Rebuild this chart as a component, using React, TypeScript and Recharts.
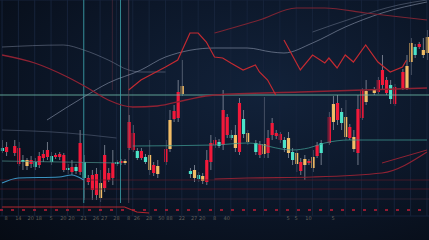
import { ComposedChart, Bar, Line, XAxis, YAxis, CartesianGrid, ReferenceLine } from 'recharts'

// time slots 0..104, prices in chart units
const slots = Array.from({ length: 105 }, (_, i) => i)

const candleSlots = [
  0, 1, 3, 4, 5, 6, 7, 8, 9, 10, 11, 12, 13, 14, 15, 16, 17, 18, 19, 20,
  21, 22, 23, 24, 25, 26, 27, 28, 29, 30, 31, 32, 33, 34, 35, 36, 37, 38, 40, 41,
  42, 43, 44, 46, 47, 48, 49, 50, 51, 52, 53, 54, 55, 56, 57, 58, 59, 60, 62, 63,
  64, 65, 66, 67, 68, 69, 70, 71, 72, 73, 74, 75, 76, 77, 78, 80, 81, 82, 83, 84,
  85, 86, 87, 88, 89, 91, 92, 93, 94, 95, 96, 98, 99, 100, 101, 102, 103, 104,
]
const opens = [
  89, 93, 94, 92, 78, 74, 80, 73, 84, 86, 90, 78, 85, 86, 85, 70, 73, 69, 97, 62,
  62, 65, 66, 42, 85, 67, 77, 76, 79, 77, 118, 107, 82, 89, 78, 70, 75, 66, 91, 91,
  129, 148, 146, 66, 62, 61, 59, 80, 97, 100, 94, 130, 123, 102, 92, 137, 106, 98, 88, 96,
  86, 102, 117, 107, 106, 92, 87, 80, 76, 78, 75, 79, 72, 95, 87, 123, 118, 137, 117, 103,
  113, 91, 131, 150, 138, 147, 160, 170, 160, 141, 153, 168, 152, 178, 185, 196, 185, 187,
]
const closes = [
  92, 88, 87, 76, 80, 80, 76, 78, 75, 82, 83, 84, 83, 83, 70, 72, 68, 73, 68, 78,
  58, 50, 45, 57, 52, 60, 62, 78, 77, 79, 92, 90, 89, 82, 83, 85, 67, 74, 78, 120,
  121, 122, 154, 69, 70, 65, 64, 58, 78, 95, 98, 95, 105, 105, 105, 88, 121, 107, 97, 85,
  96, 87, 105, 104, 100, 100, 102, 88, 87, 69, 81, 77, 83, 84, 97, 97, 136, 120, 128, 123,
  102, 103, 87, 122, 149, 151, 148, 155, 147, 155, 136, 152, 174, 197, 193, 193, 190, 203,
]
const highs = [
  100, 98, 100, 98, 85, 82, 84, 82, 88, 90, 98, 88, 87, 88, 87, 76, 80, 76, 110, 85,
  65, 70, 72, 70, 95, 72, 90, 80, 81, 81, 125, 115, 92, 92, 86, 100, 78, 80, 100, 130,
  135, 160, 180, 72, 75, 68, 67, 90, 105, 103, 101, 150, 126, 110, 115, 142, 130, 110, 100, 99,
  143, 110, 122, 110, 108, 103, 108, 92, 90, 82, 85, 81, 90, 98, 100, 128, 144, 145, 132, 140,
  116, 110, 145, 152, 160, 153, 163, 185, 163, 160, 156, 171, 185, 202, 196, 198, 202, 210,
]
const lows = [
  87, 84, 84, 74, 70, 70, 72, 70, 72, 78, 80, 75, 81, 80, 68, 66, 65, 66, 65, 40,
  55, 40, 40, 38, 48, 58, 55, 74, 75, 75, 90, 88, 80, 80, 76, 65, 64, 62, 75, 88,
  118, 118, 144, 62, 58, 58, 56, 55, 70, 92, 92, 90, 102, 100, 88, 85, 102, 95, 85, 82,
  82, 82, 100, 101, 97, 88, 82, 75, 68, 65, 60, 75, 68, 82, 75, 95, 110, 115, 110, 100,
  100, 88, 75, 120, 135, 145, 146, 150, 145, 136, 134, 150, 150, 165, 182, 191, 182, 180,
]
// r = falling (red), t = rising (teal), y = rising (amber)
const kinds = [
  't', 'r', 'r', 'r', 't', 'y', 'r', 't', 'r', 'r', 'r', 't', 'r', 'r', 'r', 't', 'r', 't', 'r', 't',
  'r', 'r', 'r', 'y', 'r', 'r', 'r', 't', 'r', 'y', 'r', 'r', 't', 'r', 't', 'y', 'r', 'y', 'r', 'y',
  'r', 'r', 'y', 't', 'y', 't', 'y', 'r', 'r', 'r', 't', 'r', 'r', 't', 'y', 'r', 't', 'y', 't', 'r',
  'y', 'r', 'r', 'r', 'r', 't', 'y', 't', 'y', 'r', 'y', 'r', 'y', 'r', 't', 'r', 'y', 'r', 't', 'y',
  'r', 'y', 'r', 'r', 'y', 'y', 'r', 'r', 'r', 't', 'r', 'r', 'y', 'y', 't', 'r', 'y', 'y',
]

// indicator lines as [slot, value]
const redWave = [[31, 150], [34, 160], [40, 173], [43, 180], [46, 207], [48, 207], [50, 198], [52, 183], [54, 182], [56, 177], [59, 170], [62, 175], [63, 168], [65, 160], [67, 145]]
const redWave2 = [[69, 200], [73, 170], [76, 185], [79, 177], [80, 182], [82, 172], [84, 185], [86, 178], [89, 195], [92, 178], [95, 168], [98, 173], [99, 180]]
const darkRed = [[0, 185], [8, 177], [16, 163], [21, 152], [26, 140], [32, 133], [38, 134], [45, 140], [52, 145], [73, 148], [104, 152]]
const greyRise = [[11, 120], [20, 143], [26, 157], [34, 170], [40, 183], [52, 192], [60, 192], [66, 188], [69, 187], [76, 197], [84, 213], [93, 227], [104, 238]]
const greyUpper = [[0, 193], [15, 195], [20, 190], [26, 180], [31, 170], [34, 168], [40, 168]]
const greyTop = [[76, 208], [86, 222], [97, 235], [104, 240]]
const topRed = [[52, 207], [63, 220], [72, 232], [79, 232], [89, 227], [104, 220]]
const blueCurve = [[0, 57], [4, 62], [14, 63], [17, 65], [20, 60]]
const tealLow = [[0, 79], [29, 77]]
const tealMid = [[32, 94], [52, 95], [60, 97], [71, 90], [75, 92], [79, 97], [85, 100], [104, 100]]
const greyLeft = [[0, 110], [16, 107], [28, 102]]
const redBase = [[0, 33], [30, 33], [33, 28], [36, 27]]
const redLow = [[52, 61], [60, 62], [76, 63], [93, 67], [104, 88]]
const redLow2 = [[93, 77], [104, 90]]

const labelSlots = [1, 4, 7, 9, 12, 15, 17, 20, 23, 25, 28, 31, 33, 36, 39, 41, 44, 47, 49, 52, 55, 70, 72, 75, 81]
const labels = ['8', '14', '20', '18', '5', '20', '20', '21', '26', '27', '28', '8', '26', '28', '50', '88', '22', '27', '20', '8', '40', '5', '5', '10', '5']

const gridSlots = [0, 4, 8, 12, 16, 20, 24, 28, 32, 36, 40, 44, 48, 52, 56, 60, 64, 68, 72, 76, 80, 84, 88, 92, 96, 100, 104]
const yTicks = [24, 36, 48, 60, 72, 84, 96, 108, 120, 132, 144, 156, 168, 180, 192, 204, 216, 228, 240]

const lineSeries: Record<string, number[][]> = {
  redWave, redWave2, darkRed, greyRise, greyUpper, greyTop, topRed,
  blueCurve, tealLow, tealMid, greyLeft, redBase, redLow, redLow2,
}

const data = slots.map((t) => {
  const row: any = { t }
  const k = candleSlots.indexOf(t)
  if (k >= 0) {
    row.range = [lows[k], highs[k]]
    row.open = opens[k]
    row.close = closes[k]
    row.high = highs[k]
    row.low = lows[k]
    row.kind = kinds[k]
  }
  Object.entries(lineSeries).forEach(([name, pts]) => {
    const p = pts.find((q) => q[0] === t)
    if (p) row[name] = p[1]
  })
  return row
})

const candleColors: Record<string, string> = { r: '#f2193a', t: '#4be3c9', y: '#f3bd66' }

const Candle = (props: any) => {
  const { x, y, width, height, payload } = props
  if (!payload || payload.high == null) return null
  const top = Math.min(y, y + height)
  const h = Math.abs(height)
  const k = h / (payload.high - payload.low)
  const cx = x + width / 2
  const bTop = top + (payload.high - Math.max(payload.open, payload.close)) * k
  const bBot = top + (payload.high - Math.min(payload.open, payload.close)) * k
  return (
    <g>
      <line x1={cx} x2={cx} y1={top} y2={top + h} stroke="#a4abb8" strokeOpacity={0.65} strokeWidth={1} />
      <rect x={cx - 1.6} y={bTop} width={3.2} height={Math.max(1.5, bBot - bTop)} fill={candleColors[payload.kind]} />
    </g>
  )
}

const LabelTick = (props: any) => {
  const { x, y, payload } = props
  const i = labelSlots.indexOf(payload.value)
  return (
    <text x={x} y={y + 4} fill="#b9ab92" fillOpacity={0.5} fontSize={5} textAnchor="middle" fontFamily="DejaVu Sans">
      {labels[i]}
    </text>
  )
}

const lineProps = { dot: false, activeDot: false, connectNulls: true, isAnimationActive: false } as const

export default function App() {
  return (
    <div
      style={{
        width: 429,
        height: 240,
        background: 'radial-gradient(ellipse at 62% 38%, #12223a 0%, #0c1729 50%, #060b14 100%)',
      }}
    >
      <style>{'body{margin:0;background:#060b14}'}</style>
      <ComposedChart width={429} height={240} data={data} margin={{ top: 0, right: 0, bottom: 0, left: 0 }} barSize={3}>
        <CartesianGrid vertical={false} stroke="#16233a" strokeWidth={1} />
        <XAxis
          dataKey="t"
          ticks={labelSlots}
          interval={0}
          height={24}
          axisLine={false}
          tickLine={false}
          tickSize={0}
          tickMargin={0}
          tick={<LabelTick />}
        />
        <YAxis width={0} type="number" domain={[24, 240]} ticks={yTicks} tick={false} axisLine={false} tickLine={false} />

        {gridSlots.map((s) => (
          <ReferenceLine key={'g' + s} x={s} stroke="#16233a" strokeWidth={1} />
        ))}
        <ReferenceLine y={60} stroke="#5b1a2a" strokeOpacity={0.7} />
        <ReferenceLine y={51} stroke="#5b1a2a" strokeOpacity={0.7} />
        <ReferenceLine y={41} stroke="#3a2a3a" strokeOpacity={0.7} />
        <ReferenceLine y={30} stroke="#c01d38" strokeWidth={2} strokeDasharray="3 8" strokeOpacity={0.75} />
        <ReferenceLine y={145} stroke="#6db7a6" strokeOpacity={0.85} />
        <ReferenceLine segment={[{ x: 20, y: 37 }, { x: 20, y: 240 }]} stroke="#3a9ea6" strokeOpacity={0.85} />
        <ReferenceLine segment={[{ x: 29, y: 37 }, { x: 29, y: 240 }]} stroke="#3a9ea6" strokeOpacity={0.85} />
        <ReferenceLine segment={[{ x: 31, y: 37 }, { x: 31, y: 240 }]} stroke="#6a4a5a" strokeOpacity={0.7} />
        <ReferenceLine segment={[{ x: 27, y: 150 }, { x: 27, y: 240 }]} stroke="#4a2a3a" strokeOpacity={0.7} />

        <Line dataKey="greyUpper" type="monotone" stroke="#7b869c" strokeOpacity={0.5} strokeWidth={1} {...lineProps} />
        <Line dataKey="greyRise" type="monotone" stroke="#8d97ad" strokeOpacity={0.6} strokeWidth={1} {...lineProps} />
        <Line dataKey="greyTop" type="monotone" stroke="#8d97ad" strokeOpacity={0.4} strokeWidth={1} {...lineProps} />
        <Line dataKey="greyLeft" type="monotone" stroke="#6d7890" strokeOpacity={0.45} strokeWidth={1} {...lineProps} />
        <Line dataKey="topRed" type="monotone" stroke="#7a2433" strokeWidth={1.2} {...lineProps} />
        <Line dataKey="darkRed" type="monotone" stroke="#8e2233" strokeWidth={1.3} {...lineProps} />
        <Line dataKey="tealLow" type="monotone" stroke="#4c8d88" strokeOpacity={0.7} strokeWidth={1} {...lineProps} />
        <Line dataKey="tealMid" type="monotone" stroke="#3f9a92" strokeOpacity={0.75} strokeWidth={1} {...lineProps} />
        <Line dataKey="blueCurve" type="monotone" stroke="#3a93c0" strokeWidth={1.2} {...lineProps} />
        <Line dataKey="redBase" type="linear" stroke="#b3262f" strokeWidth={1.2} {...lineProps} />
        <Line dataKey="redLow" type="monotone" stroke="#8e2233" strokeWidth={1.2} {...lineProps} />
        <Line dataKey="redLow2" type="linear" stroke="#8e2233" strokeWidth={1} {...lineProps} />
        <Line dataKey="redWave" type="linear" stroke="#c32a31" strokeWidth={1.2} {...lineProps} />
        <Line dataKey="redWave2" type="linear" stroke="#c32a31" strokeWidth={1.2} {...lineProps} />

        <Bar dataKey="range" shape={<Candle />} isAnimationActive={false} />
      </ComposedChart>
    </div>
  )
}
